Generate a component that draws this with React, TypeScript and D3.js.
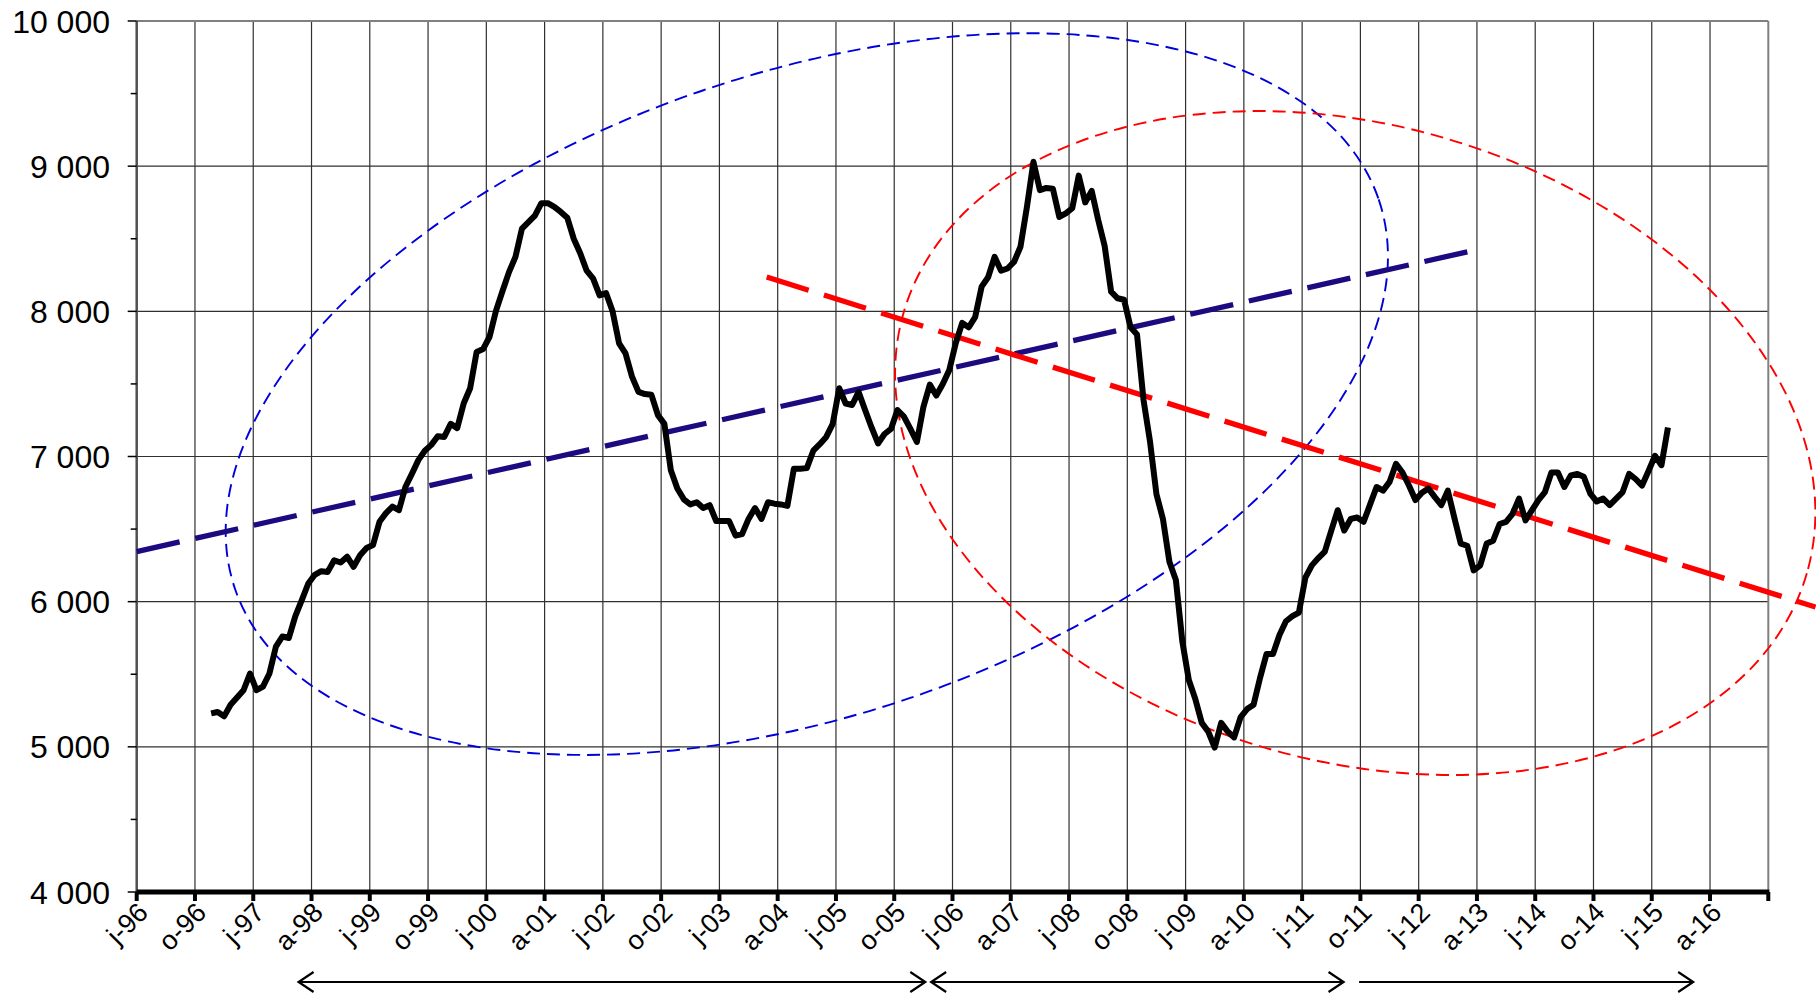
import React from 'react';
import * as d3 from 'd3';

// months counted from January 1996 (index 0); first observation is December 1996
const FIRST_MONTH = 11;
const values1996 = [5230];
const values1997 = [5240, 5210, 5290, 5340, 5390, 5505, 5390, 5415, 5505, 5690, 5760, 5750];
const values1998 = [5900, 6010, 6125, 6185, 6210, 6205, 6285, 6270, 6310, 6240, 6320, 6370];
const values1999 = [6390, 6550, 6610, 6655, 6630, 6790, 6880, 6975, 7040, 7080, 7140, 7135];
const values2000 = [7225, 7195, 7365, 7470, 7720, 7740, 7825, 8005, 8140, 8270, 8375, 8570];
const values2001 = [8615, 8660, 8745, 8745, 8720, 8685, 8645, 8500, 8400, 8280, 8225, 8110];
const values2002 = [8125, 8000, 7780, 7710, 7550, 7445, 7430, 7425, 7285, 7225, 6905, 6780];
const values2003 = [6705, 6670, 6685, 6645, 6665, 6555, 6555, 6555, 6455, 6465, 6570, 6645];
const values2004 = [6570, 6685, 6675, 6670, 6660, 6915, 6915, 6920, 7040, 7085, 7135, 7225];
const values2005 = [7470, 7365, 7355, 7445, 7320, 7200, 7090, 7155, 7190, 7320, 7275, 7190];
const values2006 = [7100, 7340, 7495, 7420, 7500, 7595, 7780, 7920, 7890, 7960, 8170, 8235];
const values2007 = [8375, 8280, 8295, 8340, 8445, 8720, 9030, 8835, 8850, 8845, 8650, 8675];
const values2008 = [8710, 8935, 8750, 8830, 8630, 8450, 8135, 8090, 8080, 7890, 7840, 7390];
const values2009 = [7105, 6740, 6570, 6275, 6150, 5725, 5460, 5330, 5165, 5105, 4995, 5165];
const values2010 = [5105, 5065, 5205, 5260, 5290, 5475, 5640, 5640, 5770, 5865, 5900, 5925];
const values2011 = [6165, 6250, 6300, 6345, 6490, 6630, 6490, 6570, 6580, 6550, 6670, 6790];
const values2012 = [6765, 6825, 6950, 6890, 6800, 6700, 6750, 6780, 6720, 6665, 6765, 6580];
const values2013 = [6400, 6385, 6215, 6250, 6400, 6420, 6535, 6550, 6605, 6710, 6560, 6630];
const values2014 = [6700, 6755, 6890, 6890, 6790, 6870, 6880, 6860, 6745, 6690, 6710, 6665];
const values2015 = [6710, 6755, 6880, 6845, 6800, 6900, 7005, 6940, 7200];

const xTickLabels = [
  'j-96', 'o-96', 'j-97', 'a-98', 'j-99', 'o-99', 'j-00', 'a-01', 'j-02', 'o-02',
  'j-03', 'a-04', 'j-05', 'o-05', 'j-06', 'a-07', 'j-08', 'o-08', 'j-09', 'a-10',
  'j-11', 'o-11', 'j-12', 'a-13', 'j-14', 'o-14', 'j-15', 'a-16',
];
const TICK_STEP = 9;
const X_END = 252;
const yMajorTicks = [4000, 5000, 6000, 7000, 8000, 9000, 10000];
const yMinorTicks = [4500, 5500, 6500, 7500, 8500, 9500];

// annotations in data units (month index, value)
const blueTrend = [[0, 6345], [206.5, 8420]];
const redTrend = [[97.3, 8236], [259.3, 5963]];
const blueEllipse = { month: 103.5, value: 7430, rMonths: 93.3, rValue: 2211, angle: -18.8 };
const redEllipse = { month: 188.2, value: 7093, rMonths: 72.6, rValue: 2189, angle: 16.1 };
const periodArrows = [
  { from: 25.0, to: 121.8, startHead: true, endHead: true },
  { from: 122.7, to: 186.4, startHead: true, endHead: true },
  { from: 188.8, to: 240.4, startHead: false, endHead: true },
];

const W = 1816;
const H = 995;
const LEFT = 136.7;
const RIGHT = 1768.3;
const TOP = 21;
const BOTTOM = 892;
const FONT = "'Liberation Sans', Arial, sans-serif";

export default function App() {
  const x = d3.scaleLinear().domain([0, X_END]).range([LEFT, RIGHT]);
  const y = d3.scaleLinear().domain([4000, 10000]).range([BOTTOM, TOP]);

  const all = [
    values1996, values1997, values1998, values1999, values2000, values2001, values2002,
    values2003, values2004, values2005, values2006, values2007, values2008, values2009,
    values2010, values2011, values2012, values2013, values2014, values2015,
  ].flat();
  const series: [number, number][] = all.map((v, i) => [FIRST_MONTH + i, v]);

  const line = d3
    .line<[number, number]>()
    .x((d) => x(d[0] + 0.5))
    .y((d) => y(d[1]));

  const trend = d3
    .line<number[]>()
    .x((d) => x(d[0]))
    .y((d) => y(d[1]));

  const tickMonths = d3.range(0, X_END + 1, TICK_STEP);

  const ellipse = (e: typeof blueEllipse, color: string, key: string) => {
    const cx = x(e.month);
    const cy = y(e.value);
    const rx = x(e.month + e.rMonths) - cx;
    const ry = y(e.value - e.rValue) - cy;
    return (
      <ellipse
        key={key}
        cx={cx}
        cy={cy}
        rx={rx}
        ry={ry}
        transform={`rotate(${e.angle} ${cx} ${cy})`}
        fill="none"
        stroke={color}
        strokeWidth={1.9}
        strokeDasharray="13 7"
      />
    );
  };

  const arrowY = 982;
  const head = 15;
  const headW = 10;

  return (
    <svg
      width={W}
      height={H}
      style={{ position: 'absolute', left: 0, top: 0, display: 'block', background: '#fff' }}
      fontFamily={FONT}
    >
      <rect x={0} y={0} width={W} height={H} fill="#fff" />
      {/* horizontal gridlines */}
      {yMajorTicks.slice(1, -1).map((v) => (
        <line key={'h' + v} x1={LEFT} x2={RIGHT} y1={y(v)} y2={y(v)} stroke="#303030" strokeWidth={1.2} />
      ))}
      {/* vertical gridlines */}
      {tickMonths.slice(1, -1).map((m) => (
        <line key={'v' + m} x1={x(m)} x2={x(m)} y1={TOP} y2={BOTTOM} stroke="#303030" strokeWidth={1.2} />
      ))}
      {/* plot border */}
      <line x1={LEFT} x2={RIGHT} y1={TOP} y2={TOP} stroke="#808080" strokeWidth={2} />
      <line x1={RIGHT} x2={RIGHT} y1={TOP} y2={BOTTOM} stroke="#808080" strokeWidth={2} />
      <line x1={LEFT} x2={LEFT} y1={TOP} y2={BOTTOM} stroke="#505050" strokeWidth={2.5} />

      {/* y ticks */}
      {yMajorTicks.map((v) => (
        <line key={'yt' + v} x1={LEFT - 9} x2={LEFT} y1={y(v)} y2={y(v)} stroke="#000" strokeWidth={1.5} />
      ))}
      {yMinorTicks.map((v) => (
        <line key={'ym' + v} x1={LEFT - 6} x2={LEFT} y1={y(v)} y2={y(v)} stroke="#000" strokeWidth={1.5} />
      ))}
      {yMajorTicks.map((v) => (
        <text key={'yl' + v} x={110} y={y(v)} dy="0.36em" textAnchor="end" fontSize={32} fill="#000">
          {d3.format(',')(v).replace(',', '\u00a0')}
        </text>
      ))}

      {/* ellipses */}
      {ellipse(blueEllipse, '#0000dd', 'be')}
      {ellipse(redEllipse, '#ff0000', 're')}

      {/* trend lines */}
      <path d={trend(blueTrend) || ''} fill="none" stroke="#1c0a80" strokeWidth={5.3} strokeDasharray="44 16" />
      <path d={trend(redTrend) || ''} fill="none" stroke="#ff0000" strokeWidth={5.3} strokeDasharray="44 16" />

      {/* series */}
      <path d={line(series) || ''} fill="none" stroke="#000" strokeWidth={6} strokeLinejoin="round" />

      {/* x axis */}
      <line x1={LEFT} x2={RIGHT + 1} y1={BOTTOM} y2={BOTTOM} stroke="#000" strokeWidth={5} />
      {tickMonths.map((m) => (
        <line key={'xt' + m} x1={x(m)} x2={x(m)} y1={BOTTOM} y2={BOTTOM + 9} stroke="#000" strokeWidth={4} />
      ))}
      {xTickLabels.map((lab, i) => {
        const tx = x(i * TICK_STEP) + 13;
        const ty = 914;
        return (
          <text
            key={'xl' + i}
            x={tx}
            y={ty}
            textAnchor="end"
            fontSize={27}
            fill="#000"
            transform={`rotate(-45 ${tx} ${ty})`}
          >
            {lab}
          </text>
        );
      })}

      {/* period arrows */}
      {periodArrows.map((a, i) => {
        const x1 = x(a.from);
        const x2 = x(a.to);
        return (
          <g key={'ar' + i} stroke="#000" strokeWidth={2.2} fill="none">
            <line x1={x1} x2={x2} y1={arrowY} y2={arrowY} />
            {a.startHead && (
              <polyline points={`${x1 + head},${arrowY - headW} ${x1},${arrowY} ${x1 + head},${arrowY + headW}`} />
            )}
            {a.endHead && (
              <polyline points={`${x2 - head},${arrowY - headW} ${x2},${arrowY} ${x2 - head},${arrowY + headW}`} />
            )}
          </g>
        );
      })}
    </svg>
  );
}
